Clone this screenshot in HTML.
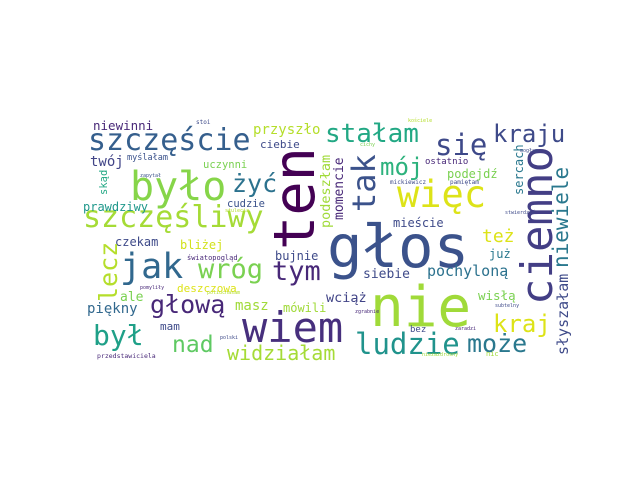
<!DOCTYPE html>
<html><head><meta charset="utf-8"><style>
html,body{margin:0;padding:0;background:#fff;}
svg{display:block;}
text{font-family:"DejaVu Sans Mono","Liberation Mono",monospace;}
</style></head><body>
<svg width="640" height="480" viewBox="0 0 640 480">
<rect x="0" y="0" width="640" height="480" fill="#ffffff"/>
<g>
<text transform="translate(314,250) rotate(-90)" font-size="57" fill="#440154">ten</text>
<text x="327" y="267" font-size="59" fill="#3b528b">głos</text>
<text x="370" y="326" font-size="56" fill="#a0da39">nie</text>
<text transform="translate(552,305) rotate(-90)" font-size="44" fill="#433e85">ciemno</text>
<text x="242" y="342" font-size="42" fill="#472f7d">wiem</text>
<text x="130" y="200" font-size="40" fill="#86d549">było</text>
<text x="88" y="150" font-size="30" fill="#355f8d">szczęście</text>
<text x="83" y="227" font-size="30" fill="#a5db36">szczęśliwy</text>
<text x="120" y="278" font-size="35" fill="#31688e">jak</text>
<text x="397" y="207" font-size="37" fill="#dde318">więc</text>
<text transform="translate(375,212) rotate(-90)" font-size="32" fill="#3b528b">tak</text>
<text x="435" y="155" font-size="29" fill="#3e4989">się</text>
<text x="493" y="142" font-size="24" fill="#3e4a89">kraju</text>
<text x="325" y="142" font-size="26" fill="#22a884">stałam</text>
<text x="380" y="175" font-size="24" fill="#2db27d">mój</text>
<text x="232" y="192" font-size="25" fill="#2c728e">żyć</text>
<text x="93" y="130" font-size="12.5" fill="#482878">niewinni</text>
<text x="253" y="134" font-size="14" fill="#b5de2b">przyszło</text>
<text x="260" y="148" font-size="11" fill="#3e4a89">ciebie</text>
<text x="90" y="166" font-size="14" fill="#414487">twój</text>
<text x="127" y="160" font-size="8.5" fill="#3b528b">myślałam</text>
<text x="203" y="168" font-size="10.5" fill="#7ad151">uczynni</text>
<text transform="translate(107,195) rotate(-90)" font-size="10.5" fill="#22a884">skąd</text>
<text x="83" y="211" font-size="12" fill="#1f988b">prawdziwy</text>
<text x="227" y="207" font-size="10.5" fill="#3b528b">cudzie</text>
<text x="115" y="246" font-size="12" fill="#3e4a89">czekam</text>
<text x="180" y="249" font-size="12" fill="#d2e21b">bliżej</text>
<text transform="translate(117,302) rotate(-90)" font-size="25" fill="#b5de2b">lecz</text>
<text x="198" y="278" font-size="27" fill="#7ad151">wróg</text>
<text x="272" y="280" font-size="27" fill="#482878">tym</text>
<text x="275" y="260" font-size="12" fill="#3e4a89">bujnie</text>
<text x="177" y="292" font-size="11" fill="#dde318">deszczowa</text>
<text x="120" y="301" font-size="13" fill="#7ad151">ale</text>
<text x="87" y="313" font-size="14" fill="#31688e">piękny</text>
<text x="150" y="313" font-size="25" fill="#482878">głową</text>
<text x="235" y="310" font-size="14" fill="#a0da39">masz</text>
<text x="283" y="312" font-size="12" fill="#a0da39">mówili</text>
<text x="93" y="345" font-size="28" fill="#1fa088">był</text>
<text x="172" y="352" font-size="23" fill="#5ec962">nad</text>
<text x="160" y="330" font-size="11" fill="#3e4a89">mam</text>
<text x="227" y="360" font-size="20" fill="#a5db36">widziałam</text>
<text x="355" y="354" font-size="29" fill="#20938c">ludzie</text>
<text x="467" y="352" font-size="25" fill="#2a788e">może</text>
<text x="493" y="332" font-size="24" fill="#dde318">kraj</text>
<text x="478" y="300" font-size="12.5" fill="#7ad151">wisłą</text>
<text x="427" y="276" font-size="15" fill="#2c728e">pochyloną</text>
<text x="489" y="258" font-size="12" fill="#2a788e">już</text>
<text x="363" y="278" font-size="13" fill="#3e4a89">siebie</text>
<text x="326" y="302" font-size="13.5" fill="#414487">wciąż</text>
<text x="482" y="242" font-size="18" fill="#dde318">też</text>
<text transform="translate(568,268) rotate(-90)" font-size="21" fill="#2a788e">niewiele</text>
<text transform="translate(523,195) rotate(-90)" font-size="12" fill="#2a788e">sercach</text>
<text transform="translate(568,355) rotate(-90)" font-size="15" fill="#3e4a89">słyszałam</text>
<text transform="translate(343,220) rotate(-90)" font-size="13" fill="#482878">momencie</text>
<text transform="translate(330,228) rotate(-90)" font-size="13.5" fill="#a0da39">podeszłam</text>
<text x="447" y="178" font-size="12" fill="#7ad151">podejdź</text>
<text x="425" y="164" font-size="9" fill="#482878">ostatnio</text>
<text x="393" y="227" font-size="12" fill="#3e4a89">mieście</text>
<text x="410" y="332" font-size="9" fill="#3e4a89">bez</text>
<text x="187" y="260" font-size="7" fill="#482878">światopogląd</text>
<text x="97" y="358" font-size="6.5" fill="#482878">przedstawiciela</text>
<text x="196" y="124" font-size="6" fill="#3e4a89">stoi</text>
<text x="140" y="177" font-size="5" fill="#3b528b">zapytał</text>
<text x="390" y="184" font-size="6" fill="#3e4a89">mickiewicz</text>
<text x="450" y="184" font-size="6" fill="#3e4a89">pamiętam</text>
<text x="408" y="122" font-size="5" fill="#b5de2b">kościele</text>
<text x="360" y="146" font-size="5" fill="#7ad151">cichy</text>
<text x="520" y="152" font-size="5" fill="#3e4a89">mogłam</text>
<text x="505" y="214" font-size="5" fill="#3e4a89">stwierdzić</text>
<text x="225" y="212" font-size="5" fill="#b5de2b">stulecia</text>
<text x="220" y="339" font-size="5" fill="#3e4a89">polski</text>
<text x="140" y="289" font-size="5" fill="#482878">pomyliły</text>
<text x="207" y="294" font-size="5" fill="#b5de2b">poliucnasam</text>
<text x="355" y="313" font-size="5" fill="#482878">zgrabnie</text>
<text x="455" y="330" font-size="5" fill="#482878">zaradzi</text>
<text x="495" y="307" font-size="5" fill="#3e4a89">subtelny</text>
<text x="422" y="356" font-size="5" fill="#a0da39">niezazdrosny</text>
<text x="486" y="356" font-size="7" fill="#a0da39">nic</text>
</g>
</svg>
</body></html>
